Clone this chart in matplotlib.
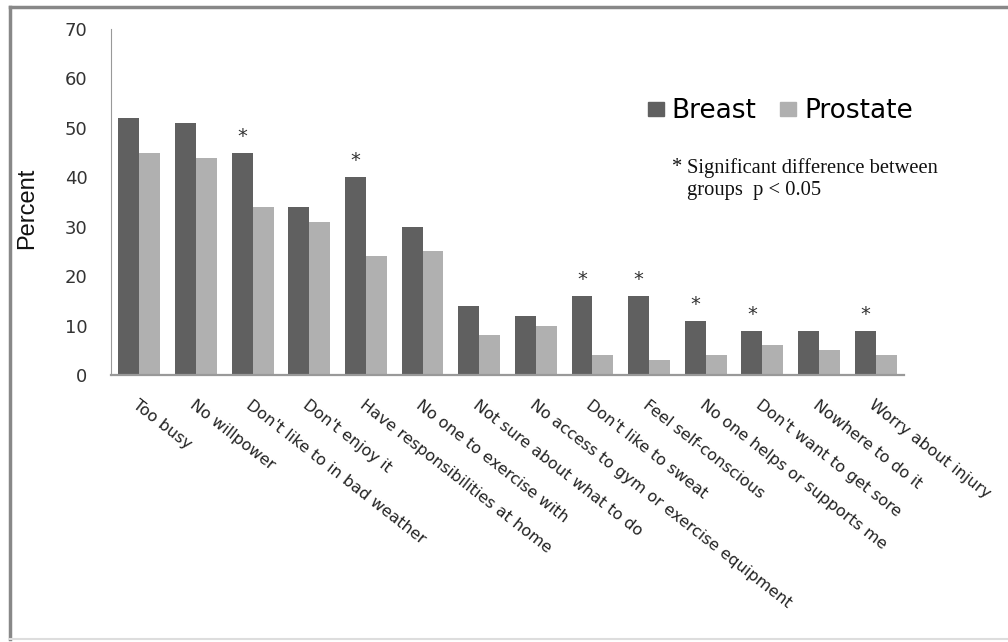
import numpy as np
import matplotlib.pyplot as plt
from matplotlib.patches import Rectangle
from matplotlib.lines import Line2D

categories = ["Too busy", "No willpower", "Don't like to in bad weather", "Don't enjoy it",
              "Have responsibilities at home", "No one to exercise with",
              "Not sure about what to do", "No access to gym or exercise equipment",
              "Don't like to sweat", "Feel self-conscious", "No one helps or supports me",
              "Don't want to get sore", "Nowhere to do it", "Worry about injury"]
breast = [52, 51, 45, 34, 40, 30, 14, 12, 16, 16, 11, 9, 9, 9]
prostate = [45, 44, 34, 31, 24, 25, 8, 10, 4, 3, 4, 6, 5, 4]
significant = [False, False, True, False, True, False, False, False, True, True, True, True, False, True]
yticks = [0, 10, 20, 30, 40, 50, 60, 70]

C_BREAST = "#606060"
C_PROSTATE = "#b0b0b0"
W, H = 1008, 642

fig = plt.figure(figsize=(W/100, H/100), dpi=100)
ax = fig.add_axes([111/W, 1-375/H, (904-111)/W, (375-29)/H])

x = np.arange(len(categories))
w = 0.37
ax.bar(x - w/2, breast, w, color=C_BREAST, label="Breast")
ax.bar(x + w/2, prostate, w, color=C_PROSTATE, label="Prostate")

# significance stars above the breast bars
for xi, b, s in zip(x, breast, significant):
    if s:
        ax.text(xi - w/2, b + 1.4, "*", ha="center", va="bottom", fontsize=14,
                color="#333333", family="DejaVu Sans")

ax.set_xlim(-0.5, len(categories) - 0.5)
ax.set_ylim(0, 70)
ax.set_yticks(yticks)
ax.set_yticklabels([str(v) for v in yticks], fontsize=13, color="#333333", family="DejaVu Sans")
ax.tick_params(axis="y", length=0, pad=17)
ax.set_xticks(x)
ax.set_xticklabels(categories, rotation=-38, ha="left", va="top", rotation_mode="anchor",
                   fontsize=11.5, family="DejaVu Sans", color="#222222")
ax.tick_params(axis="x", length=0, pad=16)

for sp in ["top", "right"]:
    ax.spines[sp].set_visible(False)
ax.spines["left"].set_color("#999999")
ax.spines["left"].set_linewidth(0.8)
ax.spines["bottom"].set_color("#999999")
ax.spines["bottom"].set_linewidth(1.6)

ax.set_ylabel("Percent", fontsize=17, family="Liberation Sans", color="#111111")
ax.yaxis.set_label_coords(-0.092, 0.483)

handles = [Rectangle((0, 0), 1, 1, color=C_BREAST), Rectangle((0, 0), 1, 1, color=C_PROSTATE)]
fig.legend(handles, ["Breast", "Prostate"], loc="center left",
           bbox_to_anchor=(648/W, 1-111/H), bbox_transform=fig.transFigure,
           ncol=2, frameon=False, prop={"family": "DejaVu Sans", "size": 19},
           borderpad=0, borderaxespad=0,
           handlelength=0.6, handleheight=0.45, handletextpad=0.3, columnspacing=0.9)

fig.text(672/W, 1-167/H, "*", fontsize=14.8, family="Liberation Serif", color="#111111",
         va="center", ha="left")
fig.text(687/W, 1-179/H, "Significant difference between\ngroups  p < 0.05",
         fontsize=14.8, family="Liberation Serif", color="#111111", va="center", ha="left",
         linespacing=1.15)

# outer frame
fig.add_artist(Line2D([10/W, 10/W], [1-7/H, 1-639/H], color="#888888", lw=2.5,
                      transform=fig.transFigure))
fig.add_artist(Line2D([10/W, 1.0], [1-7/H, 1-7/H], color="#888888", lw=2.5,
                      transform=fig.transFigure))
fig.add_artist(Line2D([10/W, 1.0], [1-639/H, 1-639/H], color="#dddddd", lw=1.5,
                      transform=fig.transFigure))

fig.savefig("out.png", dpi=100)
